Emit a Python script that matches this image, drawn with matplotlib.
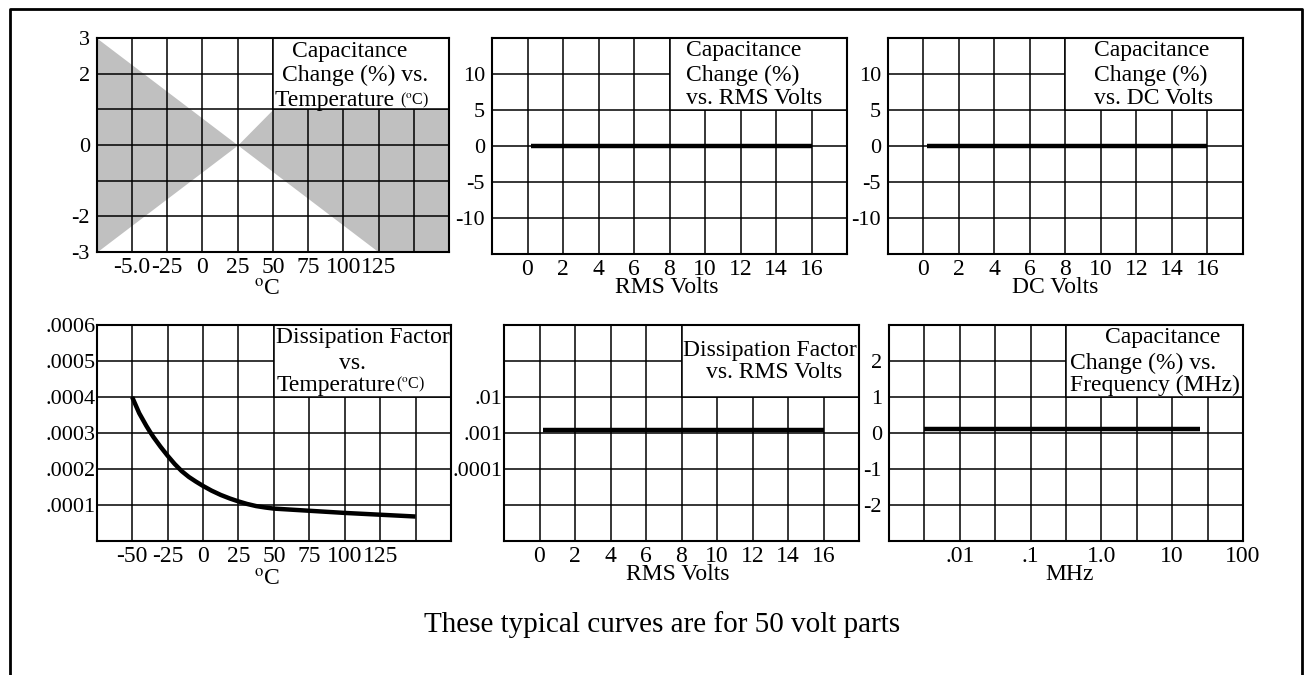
"""
Typical performance curves for 50 volt capacitor parts (six small panels).
"""

import matplotlib
matplotlib.use('Agg')
import matplotlib.pyplot as plt
from matplotlib.patches import Rectangle
from matplotlib.lines import Line2D
from matplotlib.ticker import NullLocator

plt.rcParams['font.family'] = ['Liberation Serif', 'DejaVu Serif']
plt.rcParams['mathtext.fontset'] = 'stix'

# Data

# capacitance change (%) vs temperature: tolerance band
temp_band = [-75, 25, 50, 125, 175]
band_upper = [3, 0, 1, 1, 1]
band_lower = [-3, 0, -0.75, -3, -3]

# capacitance change (%) vs RMS / DC volts
volts = [0.2, 16]
cap_change_rms = [0, 0]
cap_change_dc = [0, 0]

# dissipation factor vs temperature
df_temp = [-50, -45, -40, -37.5, -35, -30, -25, -20, -15, -10, -5, 0, 6, 12.5, 19,
           25, 31, 37.5, 44, 50, 62.5, 75, 100, 125, 150]
df_values = [0.0004, 0.000355, 0.00032, 0.000304, 0.000289, 0.000262, 0.000237,
             0.000214, 0.000194, 0.000178, 0.000165, 0.000153, 0.00014, 0.000128,
             0.000118, 0.00011, 0.000103, 0.000097, 0.000093, 0.00009, 0.000087,
             0.000084, 0.000078, 0.000073, 0.000068]

# dissipation factor vs RMS volts
df_rms = [0.0012, 0.0012]

# capacitance change (%) vs frequency
freq_mhz = [0.0031, 25]
cap_change_freq = [0.1, 0.1]

# Tick positions and labels
temp_ticks = [-50, -25, 0, 25, 50, 75, 100, 125, 150]
temp_labels_cap = ['-5.0', '-25', '0', '25', '50', '75', '100', '125', '']
temp_labels_df = ['-50', '-25', '0', '25', '50', '75', '100', '125', '']
volt_ticks = [0, 2, 4, 6, 8, 10, 12, 14, 16]
volt_labels = ['0', '2', '4', '6', '8', '10', '12', '14', '16']
pct3_ticks = [-3, -2, -1, 0, 1, 2, 3]
pct3_labels = ['-3', '-2', '', '0', '', '2', '3']
pct15_ticks = [-10, -5, 0, 5, 10]
pct15_labels = ['-10', '-5', '0', '5', '10']
df_ticks = [0.0001, 0.0002, 0.0003, 0.0004, 0.0005, 0.0006]
df_labels = ['.0001', '.0002', '.0003', '.0004', '.0005', '.0006']
dflog_ticks = [1e-5, 1e-4, 1e-3, 1e-2, 1e-1]
dflog_labels = ['', '.0001', '.001', '.01', '']
freq_ticks = [10 ** p for p in [-2.5, -2, -1.5, -1, -0.5, 0, 0.5, 1, 1.5, 2]]
freq_labels = ['', '.01', '', '.1', '', '1.0', '', '10', '', '100']
pct2_ticks = [-2, -1, 0, 1, 2]
pct2_labels = ['-2', '-1', '0', '1', '2']

W, H = 1304, 675
GRID_LW = 1.1
CURVE_LW = 3.2
TITLE_FS = 17
XTICK_FS = 17
YTICK_FS = 16
LABEL_FS = 17
GREY = '#c0c0c0'


def add_axes(fig, x0, y0, x1, y1):
    """Axes from pixel box (left, top, right, bottom)."""
    ax = fig.add_axes([x0 / W, 1 - y1 / H, (x1 - x0) / W, (y1 - y0) / H])
    for sp in ax.spines.values():
        sp.set_linewidth(1.5)
    ax.tick_params(length=0)
    ax.tick_params(axis='x', pad=3.5, labelsize=XTICK_FS)
    ax.tick_params(axis='y', pad=5, labelsize=YTICK_FS)
    ax.grid(True, color='black', linewidth=GRID_LW)
    return ax


def title_box(ax, x0, y0, x1, y1):
    """White box behind the panel title."""
    box = Rectangle((x0, y0), x1 - x0, y1 - y0, facecolor='white',
                    edgecolor='black', linewidth=GRID_LW, zorder=2)
    ax.add_patch(box)


def title_line(ax, x, y, text, ha='left'):
    return ax.text(x, y, text, transform=ax.transAxes, ha=ha, va='center',
                   fontsize=TITLE_FS, zorder=3)


def small_degc(ax, anchor_text):
    ax.annotate(r'(${}^{\mathrm{o}}$C)', xy=(1, 0.05), xycoords=anchor_text,
                ha='left', va='bottom', fontsize=11.5, zorder=3)


degc = r'${}^{\mathrm{o}}$C'

fig = plt.figure(figsize=(W / 100, H / 100), dpi=100)

# Panel 1: capacitance change vs temperature
ax1 = add_axes(fig, 96.7, 38, 449, 252)
ax1.fill_between(temp_band, band_lower, band_upper, color=GREY, linewidth=0, zorder=1)
ax1.set_xlim(-75, 175)
ax1.set_ylim(-3, 3)
ax1.set_xticks(temp_ticks, temp_labels_cap)
ax1.set_yticks(pct3_ticks, pct3_labels)
title_box(ax1, 50, 1, 175, 3)
title_line(ax1, 0.719, 0.939, 'Capacitance', ha='center')
title_line(ax1, 0.732, 0.827, 'Change (%) vs.', ha='center')
t1 = title_line(ax1, 0.505, 0.71, 'Temperature ')
small_degc(ax1, t1)
ax1.set_xlabel(degc, fontsize=LABEL_FS, va='center')
ax1.xaxis.set_label_coords(0.483, -0.178)

# Panel 2: capacitance change vs RMS volts
ax2 = add_axes(fig, 492, 38, 847, 254)
ax2.plot(volts, cap_change_rms, color='black', linewidth=CURVE_LW, solid_capstyle='butt', zorder=3)
ax2.set_xlim(-2, 18)
ax2.set_ylim(-15, 15)
ax2.set_xticks(volt_ticks, volt_labels)
ax2.set_yticks(pct15_ticks, pct15_labels)
title_box(ax2, 8, 5, 18, 15)
title_line(ax2, 0.546, 0.94, 'Capacitance')
title_line(ax2, 0.546, 0.829, 'Change (%)')
title_line(ax2, 0.546, 0.718, 'vs. RMS Volts')
ax2.set_xlabel('RMS Volts', fontsize=LABEL_FS, va='center')
ax2.xaxis.set_label_coords(0.493, -0.157)

# Panel 3: capacitance change vs DC volts
ax3 = add_axes(fig, 888, 38, 1243, 254)
ax3.plot(volts, cap_change_dc, color='black', linewidth=CURVE_LW, solid_capstyle='butt', zorder=3)
ax3.set_xlim(-2, 18)
ax3.set_ylim(-15, 15)
ax3.set_xticks(volt_ticks, volt_labels)
ax3.set_yticks(pct15_ticks, pct15_labels)
title_box(ax3, 8, 5, 18, 15)
title_line(ax3, 0.58, 0.94, 'Capacitance')
title_line(ax3, 0.58, 0.829, 'Change (%)')
title_line(ax3, 0.58, 0.718, 'vs. DC Volts')
ax3.set_xlabel('DC Volts', fontsize=LABEL_FS, va='center')
ax3.xaxis.set_label_coords(0.47, -0.157)

# Panel 4: dissipation factor vs temperature
ax4 = add_axes(fig, 96.7, 325, 451, 541)
ax4.plot(df_temp, df_values, color='black', linewidth=CURVE_LW, solid_capstyle='butt',
         solid_joinstyle='round', zorder=3)
ax4.set_xlim(-75, 175)
ax4.set_ylim(0, 0.0006)
ax4.set_xticks(temp_ticks, temp_labels_df)
ax4.set_yticks(df_ticks, df_labels)
ax4.tick_params(axis='y', pad=1)
title_box(ax4, 50, 0.0004, 175, 0.0006)
title_line(ax4, 0.505, 0.94, 'Dissipation Factor')
title_line(ax4, 0.721, 0.824, 'vs.', ha='center')
t4 = title_line(ax4, 0.508, 0.722, 'Temperature')
small_degc(ax4, t4)
ax4.set_xlabel(degc, fontsize=LABEL_FS, va='center')
ax4.xaxis.set_label_coords(0.481, -0.18)

# Panel 5: dissipation factor vs RMS volts
ax5 = add_axes(fig, 504, 325, 859, 541)
ax5.plot(volts, df_rms, color='black', linewidth=CURVE_LW, solid_capstyle='butt', zorder=3)
ax5.set_yscale('log')
ax5.set_xlim(-2, 18)
ax5.set_ylim(1e-6, 1)
ax5.set_xticks(volt_ticks, volt_labels)
ax5.set_yticks(dflog_ticks, dflog_labels)
ax5.yaxis.set_minor_locator(NullLocator())
ax5.tick_params(axis='y', pad=1)
title_box(ax5, 8, 1e-2, 18, 1)
title_line(ax5, 0.505, 0.884, 'Dissipation Factor')
title_line(ax5, 0.57, 0.778, 'vs. RMS Volts')
ax5.set_xlabel('RMS Volts', fontsize=LABEL_FS, va='center')
ax5.xaxis.set_label_coords(0.49, -0.157)

# Panel 6: capacitance change vs frequency
ax6 = add_axes(fig, 889, 325, 1243, 541)
ax6.plot(freq_mhz, cap_change_freq, color='black', linewidth=CURVE_LW, solid_capstyle='butt', zorder=3)
ax6.set_xscale('log')
ax6.set_xlim(1e-3, 1e2)
ax6.set_ylim(-3, 3)
ax6.set_xticks(freq_ticks, freq_labels)
ax6.xaxis.set_minor_locator(NullLocator())
ax6.set_yticks(pct2_ticks, pct2_labels)
title_box(ax6, 10 ** -0.5, 1, 1e2, 3)
title_line(ax6, 0.774, 0.94, 'Capacitance', ha='center')
title_line(ax6, 0.511, 0.824, 'Change (%) vs.')
title_line(ax6, 0.511, 0.722, 'Frequency (MHz)')
ax6.set_xlabel('MHz', fontsize=LABEL_FS, va='center')
ax6.xaxis.set_label_coords(0.511, -0.157)

# Footer and outer frame
fig.text(662 / W, 1 - 625 / H, 'These typical curves are for 50 volt parts',
         ha='center', va='center', fontsize=21)
frame_x = [10 / W, 10 / W, 1302 / W, 1302 / W]
frame_y = [0, 1 - 9 / H, 1 - 9 / H, 0]
fig.add_artist(Line2D(frame_x, frame_y, color='black', linewidth=2, transform=fig.transFigure))

plt.savefig('out.png', dpi=100)
